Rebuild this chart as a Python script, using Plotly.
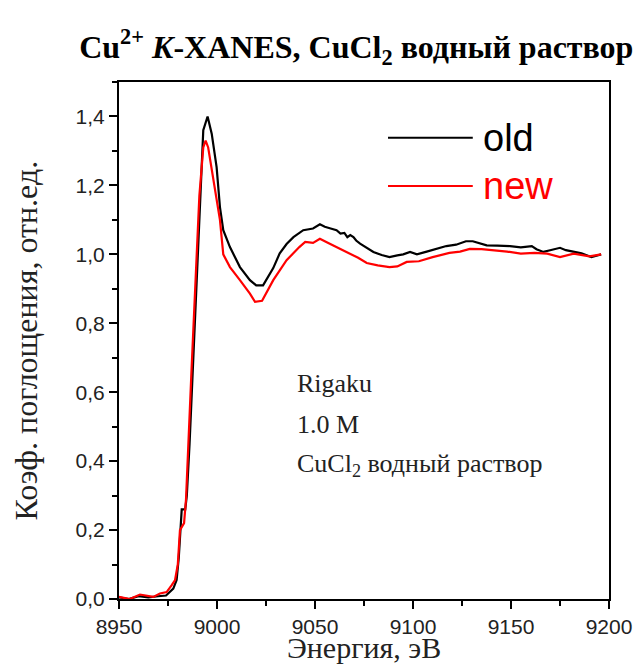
import plotly.graph_objects as go

# ---- data ----
old_E = [8950, 8955, 8960, 8965, 8970, 8974, 8977.7, 8979.4, 8980.5, 8982, 8983.8, 8984.6,
         8986, 8987.6, 8989.5, 8991.3, 8993, 8995.2, 8997.3, 8999.8, 9001.5, 9003.2, 9006.6,
         9011.7, 9016.8, 9020, 9023.5, 9028.7, 9032, 9035.5, 9039, 9044, 9049, 9052.5, 9055,
         9058, 9061, 9063, 9065, 9066.5, 9068, 9069.6, 9071, 9073, 9076, 9079.8, 9084, 9088,
         9092, 9095, 9098.5, 9102, 9107, 9112, 9117, 9122, 9127, 9130.5, 9134, 9137.6, 9143,
         9149.5, 9155, 9160.6, 9163, 9166.5, 9170, 9175, 9178, 9182, 9186, 9191, 9196]
old_mu = [0.005, 0.0, 0.008, 0.005, 0.008, 0.01, 0.03, 0.055, 0.12, 0.26, 0.26, 0.3,
          0.45, 0.66, 0.92, 1.18, 1.36, 1.40, 1.35, 1.253, 1.137, 1.07, 1.021,
          0.963, 0.925, 0.91, 0.91, 0.96, 1.003, 1.03, 1.05, 1.07, 1.075, 1.087, 1.08,
          1.075, 1.07, 1.06, 1.062, 1.05, 1.056, 1.05, 1.04, 1.031, 1.02, 1.007, 0.998, 0.992,
          0.997, 1.0, 1.007, 1.0, 1.008, 1.015, 1.024, 1.028, 1.038, 1.038, 1.032, 1.026, 1.025,
          1.024, 1.02, 1.024, 1.015, 1.007, 1.012, 1.019, 1.012, 1.007, 1.003, 0.992, 1.0]

new_E = [8950, 8955.5, 8960.7, 8964, 8967.5, 8970.9, 8974.3, 8976.9, 8978.6, 8980, 8981.1,
         8983.2, 8984.2, 8987, 8989, 8991, 8993, 8994.2, 8995.5, 8998.1, 9001.5, 9003.2,
         9006.6, 9011.7, 9016.8, 9019.4, 9023, 9028.7, 9035.5, 9042, 9045, 9049, 9052.5,
         9056, 9061, 9063, 9068, 9072, 9076.4, 9082, 9088, 9092, 9096.8, 9103, 9110, 9118.6,
         9124, 9129, 9135, 9141, 9148, 9155, 9162, 9168.5, 9175, 9182, 9190, 9196]
new_mu = [0.006, 0.0, 0.013, 0.01, 0.006, 0.016, 0.02, 0.04, 0.055, 0.1, 0.2,
          0.22, 0.29, 0.664, 0.93, 1.17, 1.31, 1.33, 1.31, 1.215, 1.1, 1.0,
          0.963, 0.925, 0.886, 0.862, 0.865, 0.925, 0.983, 1.021, 1.036, 1.033, 1.045,
          1.035, 1.021, 1.016, 1.002, 0.99, 0.975, 0.968, 0.963, 0.965, 0.978, 0.98, 0.992, 1.004,
          1.008, 1.016, 1.015, 1.012, 1.008, 1.002, 1.004, 1.002, 0.992, 1.002, 0.994, 1.0]

series_names = ["old", "new"]
series_colors = ["#000000", "#ff0000"]

title_text = "Cu<sup>2+</sup> <i>K</i>-XANES, CuCl<sub>2</sub> водный раствор"
x_title = "Энергия, эВ"
y_title = "Коэф. поглощения, отн.ед."
note_lines = ["Rigaku", "1.0 M", "CuCl<sub>2</sub> водный раствор"]

serif = "Liberation Serif, Times New Roman, serif"
sans = "Liberation Sans, Arial, sans-serif"

fig = go.Figure()
fig.add_trace(go.Scatter(x=old_E, y=old_mu, mode="lines", name=series_names[0],
                         line=dict(color=series_colors[0], width=2.2)))
fig.add_trace(go.Scatter(x=new_E, y=new_mu, mode="lines", name=series_names[1],
                         line=dict(color=series_colors[1], width=2.2)))

axis_common = dict(
    showline=True, linecolor="black", linewidth=2, mirror=True,
    ticks="outside", ticklen=8, tickwidth=2, tickcolor="black",
    showgrid=False, zeroline=False, automargin=False,
    tickfont=dict(family=sans, size=21, color="#222"),
)

fig.update_xaxes(range=[8950, 9200], dtick=50, tick0=8950,
                 minor=dict(dtick=25, ticks="outside", ticklen=5, tickwidth=2, tickcolor="black"),
                 **axis_common)
fig.update_yaxes(range=[0, 1.5], dtick=0.2, tick0=0, tickformat=".1f",
                 minor=dict(dtick=0.1, ticks="outside", ticklen=5, tickwidth=2, tickcolor="black"),
                 **axis_common)

# axis titles as annotations (precise placement)
fig.add_annotation(xref="paper", yref="paper", x=0.5, y=-0.129, text=x_title, showarrow=False,
                   xanchor="center", yanchor="bottom",
                   font=dict(family=serif, size=30, color="#222"))
fig.add_annotation(xref="paper", yref="paper", x=-0.19, y=0.5, text=y_title, showarrow=False,
                   xanchor="center", yanchor="middle", textangle=-90,
                   font=dict(family=serif, size=32, color="#222"))

# legend drawn as line segments + labels
leg_y = [0.892, 0.799]
for i in range(2):
    fig.add_shape(type="line", xref="paper", yref="paper",
                  x0=0.549, x1=0.722, y0=leg_y[i], y1=leg_y[i],
                  line=dict(color=series_colors[i], width=2))
    fig.add_annotation(xref="paper", yref="paper", x=0.738, y=leg_y[i],
                       text=series_names[i], showarrow=False, xanchor="left", yanchor="middle",
                       font=dict(family=sans, size=38, color=series_colors[i]))

note_y = [0.626, 0.505, 0.39]
for t, yv in zip(note_lines, note_y):
    fig.add_annotation(xref="x", yref="y", x=9040, y=yv, text=t, showarrow=False,
                       xanchor="left", yanchor="middle",
                       font=dict(family=serif, size=26, color="#222"))

fig.update_layout(
    width=642, height=666,
    margin=dict(l=119, r=33, t=82, b=67),
    paper_bgcolor="white", plot_bgcolor="white",
    separators=",.",
    showlegend=False,
    title=dict(text="<b>" + title_text + "</b>", x=0.555, xanchor="center", y=0.93, yanchor="middle",
               font=dict(family=serif, size=32, color="black")),
)

fig.write_html("out.html", config={"displayModeBar": False},
               post_script="document.body.style.margin='0px';")
